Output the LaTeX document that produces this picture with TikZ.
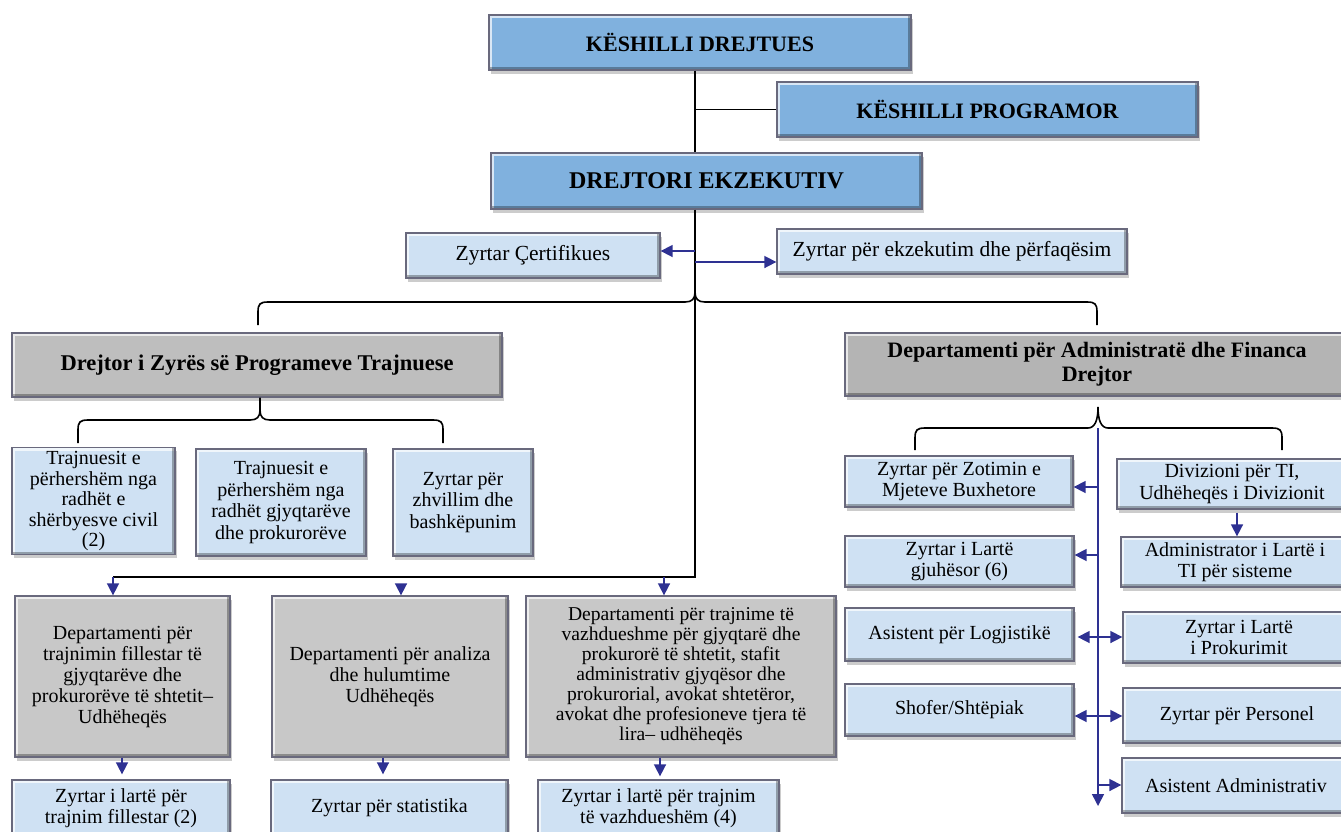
\documentclass[tikz,border=0pt]{standalone}
\usepackage{fontspec}
\setmainfont{Liberation Serif}
\usetikzlibrary{shadows,arrows.meta,calc}
\definecolor{topblue}{RGB}{128,177,222}
\definecolor{lightblue}{RGB}{207,225,243}
\definecolor{grayA}{RGB}{190,190,190}
\definecolor{grayB}{RGB}{180,180,180}
\definecolor{grayC}{RGB}{200,200,200}
\definecolor{navy}{RGB}{46,49,146}
\definecolor{rim}{RGB}{105,105,125}
\begin{document}
\begin{tikzpicture}[x=1pt,y=-1pt,
  box/.style={draw=rim, line width=1.3pt, inner sep=1pt, align=center,
    drop shadow={shadow xshift=2pt,shadow yshift=-3.5pt,opacity=0.4},
    path picture={
      \draw[white,opacity=.7,line width=6pt] (path picture bounding box.south west) -- (path picture bounding box.north west) -- (path picture bounding box.north east);
      \draw[black,opacity=.3,line width=6pt] (path picture bounding box.north east) -- (path picture bounding box.south east) -- (path picture bounding box.south west);
    }},
  topbox/.style={box, fill=topblue, font=\fontsize{22}{24}\selectfont\bfseries},
  lbox/.style={box, fill=lightblue, font=\fontsize{20}{21.5}\selectfont},
  gbox/.style={box, fill=grayC, font=\fontsize{20}{21}\selectfont},
  deptbox/.style={box, font=\fontsize{22}{24}\selectfont\bfseries},
  line/.style={black, line width=1.6pt},
  tip/.tip={Triangle[length=12pt,width=12pt]},
  arr/.style={navy, line width=1.6pt, -tip},
  darr/.style={navy, line width=1.6pt, tip-tip}
]
\useasboundingbox (0,0) rectangle (1341,831);
\clip (0,0) rectangle (1341,831);

% top level
\node[topbox, minimum width=422pt, minimum height=55pt] (kd) at (700,42.5) {KËSHILLI DREJTUES};
\node[topbox, minimum width=421pt, minimum height=55pt] (kp) at (987.5,109.5) {KËSHILLI PROGRAMOR};
\node[topbox, minimum width=431pt, minimum height=56pt, font=\fontsize{24}{26}\selectfont\bfseries] (de) at (706.5,181) {DREJTORI EKZEKUTIV};
\node[lbox, minimum width=254pt, minimum height=45pt, font=\fontsize{21.5}{24}\selectfont] (ce) at (533,255.5) {Zyrtar Çertifikues};
\node[lbox, minimum width=350pt, minimum height=45pt, font=\fontsize{21.5}{24}\selectfont] (ex) at (952,251.5) {Zyrtar për ekzekutim dhe përfaqësim};

% departments
\node[deptbox, fill=grayA, minimum width=490pt, minimum height=64pt, font=\fontsize{22.5}{24}\selectfont\bfseries] (zp) at (257,365) {Drejtor i Zyrës së Programeve Trajnuese};
\node[deptbox, fill=grayB, minimum width=504pt, minimum height=63pt] (daf) at (1097,364.5) {Departamenti për Administratë dhe Financa\\Drejtor};

% left sub boxes
\node[lbox, minimum width=163pt, minimum height=107pt, font=\fontsize{20}{20.5}\selectfont] (t1) at (93.5,501) {Trajnuesit e\\përhershëm nga\\radhët e\\shërbyesve civil\\(2)};
\node[lbox, minimum width=170pt, minimum height=107pt] (t2) at (281,502.5) {Trajnuesit e\\përhershëm nga\\radhët gjyqtarëve\\dhe prokurorëve};
\node[lbox, minimum width=140pt, minimum height=107pt] (t3) at (463,502.5) {Zyrtar për\\zhvillim dhe\\bashkëpunim};

% bottom departments
\node[gbox, minimum width=215pt, minimum height=161pt] (b1) at (122.5,676.5) {Departamenti  për\\trajnimin fillestar të\\gjyqtarëve dhe\\prokurorëve të shtetit–\\Udhëheqës};
\node[gbox, minimum width=236pt, minimum height=161pt] (b2) at (390,676.5) {Departamenti për analiza\\dhe hulumtime\\Udhëheqës};
\node[gbox, minimum width=310pt, minimum height=161pt, font=\fontsize{19.6}{20}\selectfont] (b3) at (681,676.5) {Departamenti për trajnime të\\vazhdueshme për gjyqtarë dhe\\prokurorë të shtetit, stafit\\administrativ gjyqësor dhe\\prokurorial, avokat shtetëror,\\avokat dhe profesioneve tjera të\\lira– udhëheqës};

\node[lbox, minimum width=218pt, minimum height=56pt] (l1) at (121,808) {Zyrtar i lartë për\\trajnim fillestar (2)};
\node[lbox, minimum width=237pt, minimum height=56pt] (l2) at (389.5,808) {Zyrtar për statistika};
\node[lbox, minimum width=241pt, minimum height=56pt] (l3) at (658.5,808) {Zyrtar i lartë për trajnim\\të vazhdueshëm (4)};

% right side boxes
\node[lbox, minimum width=228pt, minimum height=51pt] (zo) at (959,481.5) {Zyrtar për Zotimin e\\Mjeteve Buxhetore};
\node[lbox, minimum width=229pt, minimum height=51pt] (gj) at (959.5,561.5) {Zyrtar i Lartë\\gjuhësor (6)};
\node[lbox, minimum width=229pt, minimum height=53pt] (lo) at (959.5,634.5) {Asistent për Logjistikë};
\node[lbox, minimum width=229pt, minimum height=52pt] (sh) at (959.5,710) {Shofer/Shtëpiak};
\node[lbox, minimum width=230pt, minimum height=50pt] (dv) at (1232,484) {Divizioni për TI,\\Udhëheqës i Divizionit};
\node[lbox, minimum width=228pt, minimum height=50pt] (ad) at (1235,562) {Administrator i Lartë i\\TI për sisteme};
\node[lbox, minimum width=232pt, minimum height=51pt] (pr) at (1239,637.5) {Zyrtar i Lartë\\i Prokurimit};
\node[lbox, minimum width=228pt, minimum height=55pt] (pe) at (1237,715.5) {Zyrtar për Personel};
\node[lbox, minimum width=228pt, minimum height=55pt] (aa) at (1236,785.5) {Asistent Administrativ};

% trunk
\coordinate (tx) at (695,0);
\coordinate (hl) at (695,577);
\coordinate (hb) at (113,577);
\draw[line] (kd.south -| tx) -- (de.north -| tx);
\draw[line] (kp.west -| tx) -- (kp.west);
\draw[line] (de.south -| tx) -- (hl) -- (hb);

% top brace
\draw[line] (258,325) -- (258,312) .. controls (258,304) and (260,302) .. (268,302) -- (685,302)
  .. controls (692,302) and (695,299) .. (695,292)
  .. controls (695,299) and (698,302) .. (705,302) -- (1087,302)
  .. controls (1095,302) and (1097,304) .. (1097,312) -- (1097,325);

% left brace
\coordinate (lc) at (260,410);
\draw[line] (78,443) -- (78,430) .. controls (78,422) and (80,420) .. (88,420) -- (250,420)
  .. controls (257,420) and (260,417) .. (lc) -- (lc |- zp.south);
\draw[line] (lc) .. controls (260,417) and (263,420) .. (270,420) -- (433,420)
  .. controls (441,420) and (443,422) .. (443,430) -- (443,443);

% right brace
\draw[line] (915,450) -- (915,438) .. controls (915,430) and (917,428) .. (925,428) -- (1088,428)
  .. controls (1095,428) and (1098,420) .. (1098,407)
  .. controls (1098,420) and (1101,428) .. (1108,428) -- (1272,428)
  .. controls (1280,428) and (1282,430) .. (1282,438) -- (1282,450);

% executive side arrows
\coordinate (ca) at (695,251);
\coordinate (ea) at (695,262);
\draw[arr] (ca) -- (ca -| ce.east);
\draw[arr] (ea) -- (ea -| ex.west);

% bottom department arrows
\coordinate (a1) at (113,577);
\coordinate (a2) at (401,584);
\coordinate (a3) at (664,577);
\draw[arr] (a1) -- (a1 |- b1.north);
\draw[arr] (a2) -- (a2 |- b2.north);
\draw[arr] (a3) -- (a3 |- b3.north);
\coordinate (c1) at (122,0);
\coordinate (c2) at (383,0);
\coordinate (c3) at (660,0);
\draw[arr, shorten >=5pt] (c1 |- b1.south) -- (c1 |- l1.north);
\draw[arr, shorten >=5pt] (c2 |- b2.south) -- (c2 |- l2.north);
\draw[arr, shorten >=3pt] (c3 |- b3.south) -- (c3 |- l3.north);

% right side
\coordinate (rt) at (1098,428);
\coordinate (rb) at (1098,806);
\draw[arr] (rt) -- (rb);
\coordinate (r1) at (1098,487);
\coordinate (r2) at (1098,555);
\coordinate (r3) at (1098,637);
\coordinate (r4) at (1098,716);
\coordinate (r5) at (1098,785);
\draw[arr] (r1) -- (r1 -| zo.east);
\draw[arr] (r2) -- (r2 -| gj.east);
\draw[darr, shorten <=3pt] (r3 -| lo.east) -- (r3 -| pr.west);
\draw[darr] (r4 -| sh.east) -- (r4 -| pe.west);
\draw[arr] (r5) -- (r5 -| aa.west);
\coordinate (r6) at (1237,0);
\draw[arr, shorten <=3pt] (r6 |- dv.south) -- (r6 |- ad.north);
\end{tikzpicture}
\end{document}
